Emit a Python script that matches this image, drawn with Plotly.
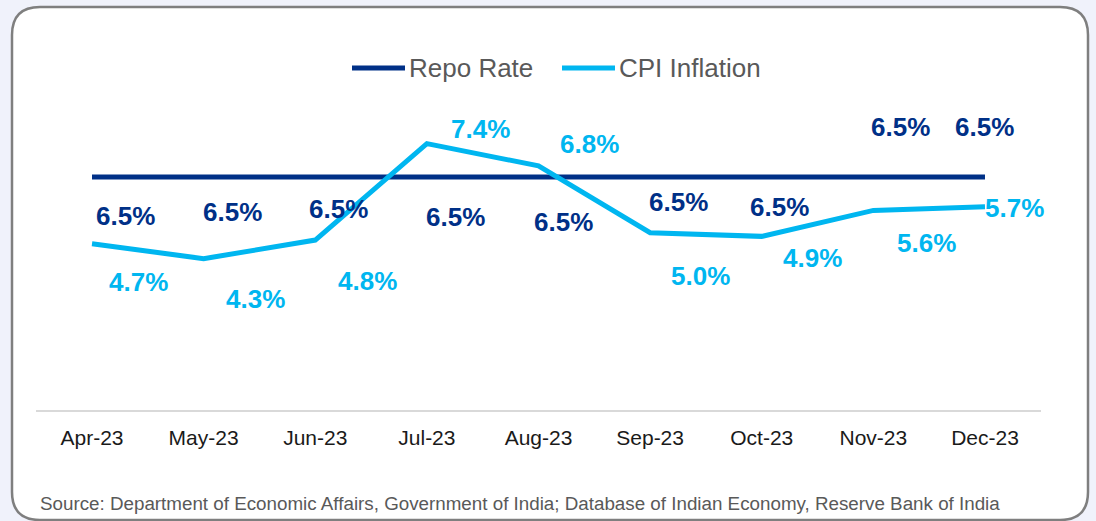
import plotly.graph_objects as go

months = ["Apr-23", "May-23", "Jun-23", "Jul-23", "Aug-23", "Sep-23", "Oct-23", "Nov-23", "Dec-23"]
repo_rate = [6.5, 6.5, 6.5, 6.5, 6.5, 6.5, 6.5, 6.5, 6.5]
cpi_inflation = [4.7, 4.3, 4.8, 7.4, 6.8, 5.0, 4.9, 5.6, 5.7]

repo_label_shift = [(33, -39), (29, -35), (23, -32), (29, -40), (25, -45), (28, -25), (18, -30), (27, 50), (0, 50)]
cpi_label_shift = [(46, -38), (52, -40), (52, -41), (54, 15), (51, 22), (50, -43), (51, -22), (53, -33), (30, -1)]

W, H = 1096, 521
REPO_C = "#003087"
CPI_C = "#00B6F0"
FONT = "Liberation Sans, Arial"


def px(x):
    return x / W


def py(y):
    return 1 - y / H


fig = go.Figure()
fig.add_trace(go.Scatter(x=months, y=repo_rate, mode="lines", name="Repo Rate",
                         line=dict(color=REPO_C, width=5), showlegend=False))
fig.add_trace(go.Scatter(x=months, y=cpi_inflation, mode="lines", name="CPI Inflation",
                         line=dict(color=CPI_C, width=5), showlegend=False))

anns = []
for m, v, (dx, dy) in zip(months, repo_rate, repo_label_shift):
    anns.append(dict(x=m, y=v, xref="x", yref="y", text=f"{v:.1f}%", showarrow=False,
                     xshift=dx, yshift=dy,
                     font=dict(family=FONT, size=26, color=REPO_C, weight="bold")))
for m, v, (dx, dy) in zip(months, cpi_inflation, cpi_label_shift):
    anns.append(dict(x=m, y=v, xref="x", yref="y", text=f"{v:.1f}%", showarrow=False,
                     xshift=dx, yshift=dy,
                     font=dict(family=FONT, size=26, color=CPI_C, weight="bold")))
anns.append(dict(x=px(38), y=py(503), xref="paper", yref="paper", xanchor="left", yanchor="middle",
                 text="Source: Department of Economic Affairs, Government of India; Database of Indian Economy, Reserve Bank of India",
                 showarrow=False, font=dict(family=FONT, size=18.8, color="#595959")))

# custom legend (longer line keys, as in the original)
legend_items = [("Repo Rate", REPO_C, 352, 405), ("CPI Inflation", CPI_C, 562, 615)]
shapes = []
for name, col, lx0, lx1 in legend_items:
    shapes.append(dict(type="line", xref="paper", yref="paper", x0=px(lx0), x1=px(lx1), y0=py(68), y1=py(68),
                       line=dict(color=col, width=5)))
    anns.append(dict(x=px(lx1 + 2), y=py(68), xref="paper", yref="paper", xanchor="left", yanchor="middle",
                     text=name, showarrow=False, font=dict(family=FONT, size=26, color="#595959")))

# rounded box
x0, y0, x1, y1, r = 12, 7, 1088, 520, 28
path = (f"M {px(x0 + r)},{py(y0)} L {px(x1 - r)},{py(y0)} Q {px(x1)},{py(y0)} {px(x1)},{py(y0 + r)} "
        f"L {px(x1)},{py(y1 - r)} Q {px(x1)},{py(y1)} {px(x1 - r)},{py(y1)} "
        f"L {px(x0 + r)},{py(y1)} Q {px(x0)},{py(y1)} {px(x0)},{py(y1 - r)} "
        f"L {px(x0)},{py(y0 + r)} Q {px(x0)},{py(y0)} {px(x0 + r)},{py(y0)} Z")
shapes.insert(0, dict(type="path", path=path, xref="paper", yref="paper", layer="below",
                      fillcolor="white", line=dict(color="#7F7F7F", width=2.5)))

fig.update_layout(
    width=W, height=H,
    margin=dict(l=0, r=0, t=0, b=0),
    paper_bgcolor="#F0F2FB",
    plot_bgcolor="rgba(0,0,0,0)",
    shapes=shapes,
    annotations=anns,
    showlegend=False,
    xaxis=dict(domain=[px(36.2), px(1040.8)], range=[-0.5, 8.5], type="category",
               showgrid=False, zeroline=False, showline=True, linecolor="#D9D9D9", linewidth=1.5,
               ticks="", ticklabelstandoff=8,
               tickfont=dict(family=FONT, size=21, color="#1a1a1a")),
    yaxis=dict(domain=[py(410), py(90)], range=[0.22, 8.845], visible=False),
)

fig.write_html("out.html", config={"displayModeBar": False},
               post_script="document.body.style.margin='0';document.body.style.background='#F0F2FB';")
